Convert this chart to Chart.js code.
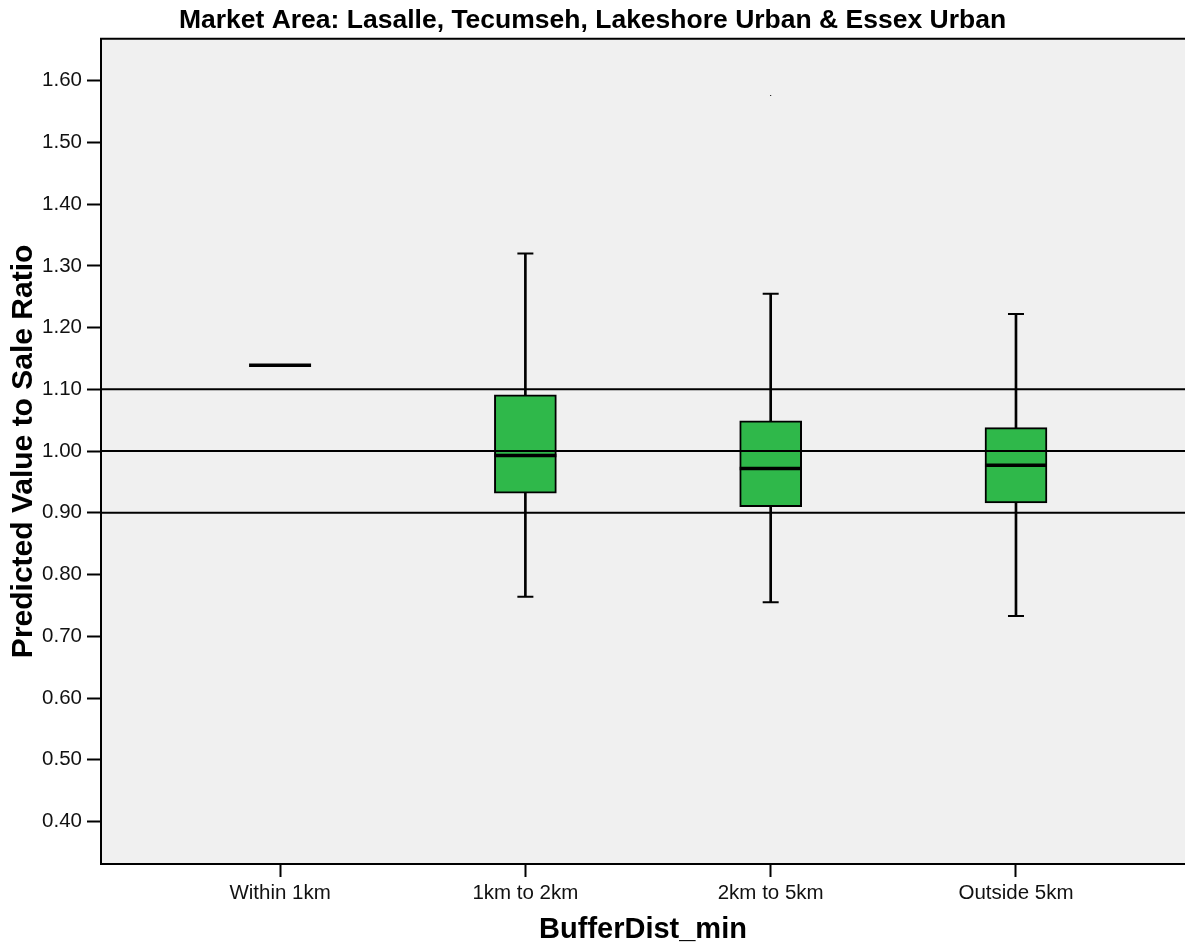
<!DOCTYPE html>
<html>
<head>
<meta charset="utf-8">
<script src="https://cdn.jsdelivr.net/npm/chart.js@4.4.1/dist/chart.umd.min.js"></script>
<style>
body{margin:0;background:#fff;}
#wrap{width:1185px;height:947px;position:relative;}
</style>
</head>
<body>
<div id="wrap"><canvas id="boxChart"></canvas></div>
<script>
// categories and box statistics
let categories = ["Within 1km","1km to 2km","2km to 5km","Outside 5km"];
let whiskerLow = [null,0.764,0.755,0.733];
let q1 = [null,0.932,0.910,0.916];
let medians = [1.139,0.993,0.972,0.977];
let q3 = [null,1.091,1.049,1.038];
let whiskerHigh = [null,1.320,1.255,1.222];
let outlierCat = [2];
let outlierVal = [1.576];
let refLines = [0.90,1.00,1.10];
let yTicks = [0.40,0.50,0.60,0.70,0.80,0.90,1.00,1.10,1.20,1.30,1.40,1.50,1.60];

let xMin = -0.730, xMax = 3.689;
let yMin = 0.3312, yMax = 1.6678;

let font = "'Liberation Sans', Arial, sans-serif";

let boxData = [], whiskerData = [], capData = [], medianData = [];
categories.forEach((c,i)=>{
  medianData.push({x:i,y:medians[i]});
  if(q1[i]==null) return;
  boxData.push({x:i,y:[q1[i],q3[i]]});
  whiskerData.push({x:i,y:[whiskerLow[i],whiskerHigh[i]]});
  capData.push({x:i,y:whiskerLow[i]});
  capData.push({x:i,y:whiskerHigh[i]});
});
let outlierData = outlierCat.map((c,k)=>({x:c,y:outlierVal[k]}));

let datasets = [
  {type:'bar',data:whiskerData,backgroundColor:'#000',barThickness:2,grouped:false,order:6},
  {type:'bar',data:boxData,backgroundColor:'#2fb84a',borderColor:'#000',borderWidth:2,borderSkipped:false,barThickness:62,grouped:false,order:5},
  {type:'scatter',data:capData,pointStyle:'line',pointRadius:8,borderColor:'#000',borderWidth:2,order:4},
  {type:'scatter',data:medianData,pointStyle:'line',pointRadius:31,borderColor:'#000',borderWidth:3.5,order:3},
  {type:'scatter',data:outlierData,pointStyle:'rect',pointRadius:0.7,backgroundColor:'#000',borderWidth:0,order:2}
];
refLines.forEach(v=>{
  datasets.push({type:'line',data:[{x:xMin,y:v},{x:xMax,y:v}],borderColor:'#000',borderWidth:2,pointRadius:0,order:1});
});

let plotBg = {
  id:'plotBg',
  beforeDraw(chart){
    let a = chart.chartArea, ctx = chart.ctx;
    ctx.save();
    ctx.fillStyle = '#f0f0f0';
    ctx.fillRect(a.left,a.top,a.right-a.left,a.bottom-a.top);
    ctx.restore();
  },
  afterDraw(chart){
    let a = chart.chartArea, ctx = chart.ctx;
    ctx.save();
    ctx.strokeStyle = '#000';
    ctx.lineWidth = 2;
    ctx.beginPath();
    ctx.moveTo(a.left-1,a.top);
    ctx.lineTo(a.right,a.top);
    ctx.stroke();
    ctx.restore();
  }
};

new Chart(document.getElementById("boxChart"),{
  type:'bar',
  data:{datasets:datasets},
  options:{
    responsive:true,
    maintainAspectRatio:false,
    animation:false,
    layout:{padding:0,autoPadding:false},
    plugins:{
      legend:{display:false},
      tooltip:{enabled:false},
      title:{
        display:true,
        text:"Market Area: Lasalle, Tecumseh, Lakeshore Urban & Essex Urban",
        color:'#000',
        font:{family:font,size:26.5,weight:'bold'},
        padding:{top:5,bottom:2}
      }
    },
    scales:{
      x:{
        type:'linear',
        min:xMin,max:xMax,
        offset:false,
        afterBuildTicks:(s)=>{ s.ticks = categories.map((c,i)=>({value:i})); },
        afterFit:(s)=>{ s.height = 83; },
        ticks:{
          callback:(v)=>categories[v],
          color:'#111',
          font:{family:font,size:20.5},
          padding:4,
          maxRotation:0,
          autoSkip:false
        },
        grid:{drawOnChartArea:false,offset:false,tickLength:13,tickWidth:2,tickColor:'#000'},
        border:{color:'#000',width:2},
        title:{display:true,text:'BufferDist_min',color:'#000',font:{family:font,size:29,weight:'bold'},padding:{top:0,bottom:0}}
      },
      y:{
        type:'linear',
        min:yMin,max:yMax,
        afterBuildTicks:(s)=>{ s.ticks = yTicks.map(v=>({value:v})); },
        afterFit:(s)=>{ s.width = 101; },
        ticks:{
          callback:(v)=>v.toFixed(2),
          color:'#111',
          font:{family:font,size:20.5},
          padding:5,
          autoSkip:false
        },
        grid:{drawOnChartArea:false,tickLength:14,tickWidth:2,tickColor:'#000'},
        border:{color:'#000',width:2},
        title:{display:true,text:'Predicted Value to Sale Ratio',color:'#000',font:{family:font,size:30,weight:'bold'},padding:{top:6,bottom:0}}
      }
    }
  },
  plugins:[plotBg]
});
</script>
</body>
</html>
